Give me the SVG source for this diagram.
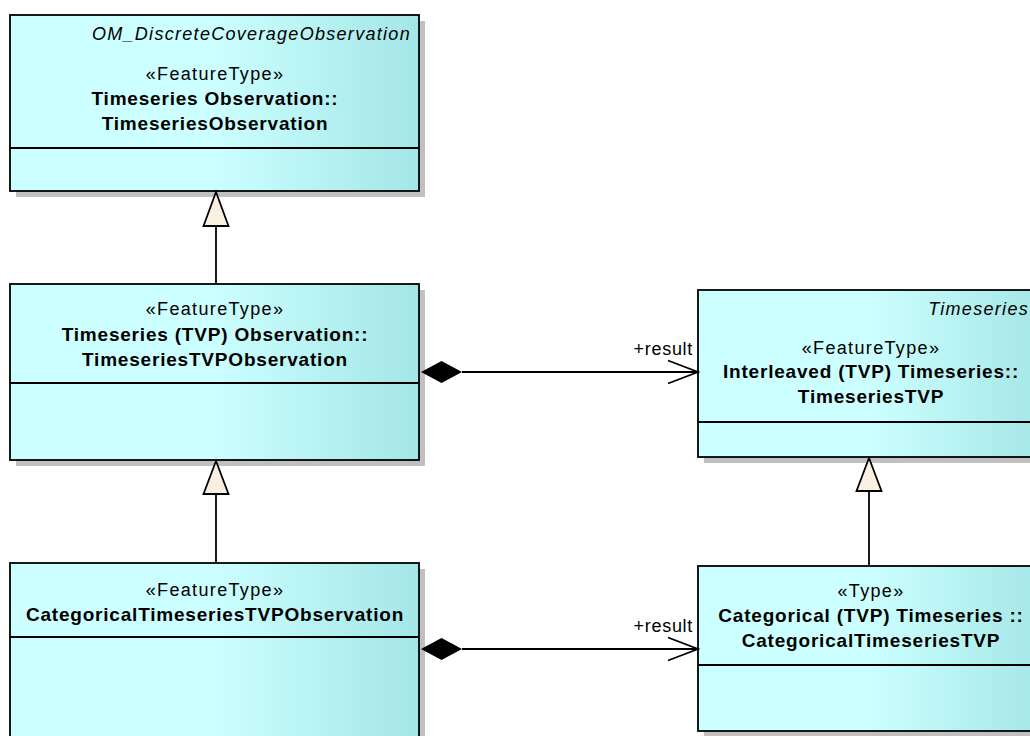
<svg xmlns="http://www.w3.org/2000/svg" width="1030" height="736" viewBox="0 0 1030 736">
<style>
  .box{fill:url(#cls);stroke:#000;stroke-width:1.8}
  .shadow{fill:#c0c0c0}
  .div{stroke:#000;stroke-width:1.8}
  text{font-family:"Liberation Sans",Arial,sans-serif;font-size:18px;fill:#000}
  .st{text-anchor:middle;letter-spacing:1.35px}
  .nm{text-anchor:middle;font-weight:bold;font-size:19px;letter-spacing:0.8px}
  .it{text-anchor:end;font-style:italic;letter-spacing:1.3px}
  .lbl{text-anchor:end;letter-spacing:0.7px}
  .ln{stroke:#000;stroke-width:1.8;fill:none}
  .gen{fill:#faf0e1;stroke:#000;stroke-width:1.8}
</style>
<defs>
  <linearGradient id="cls" x1="0" y1="0" x2="1" y2="0">
    <stop offset="0" stop-color="#ccffff"/>
    <stop offset="0.5" stop-color="#ccffff"/>
    <stop offset="1" stop-color="#a4e6e6"/>
  </linearGradient>
</defs>
<rect width="1030" height="736" fill="#fff"/>

<g id="TimeseriesObservation">
  <rect class="shadow" x="16" y="21" width="409" height="176"/>
  <rect class="box" x="10" y="15" width="409" height="176"/>
  <line class="div" x1="10" y1="148" x2="419" y2="148"/>
  <text class="it" x="411" y="40">OM_DiscreteCoverageObservation</text>
  <text class="st" x="215" y="80">«FeatureType»</text>
  <text class="nm" x="215" y="105">Timeseries Observation::</text>
  <text class="nm" x="215" y="130">TimeseriesObservation</text>
</g>

<g id="TimeseriesTVPObservation">
  <rect class="shadow" x="16" y="290" width="409" height="176"/>
  <rect class="box" x="10" y="284" width="409" height="176"/>
  <line class="div" x1="10" y1="383" x2="419" y2="383"/>
  <text class="st" x="215" y="315">«FeatureType»</text>
  <text class="nm" x="215" y="341">Timeseries (TVP) Observation::</text>
  <text class="nm" x="215" y="366">TimeseriesTVPObservation</text>
</g>

<g id="CategoricalTimeseriesTVPObservation">
  <rect class="shadow" x="16" y="569" width="409" height="200"/>
  <rect class="box" x="10" y="563" width="409" height="200"/>
  <line class="div" x1="10" y1="637" x2="419" y2="637"/>
  <text class="st" x="215" y="596">«FeatureType»</text>
  <text class="nm" x="215" y="621">CategoricalTimeseriesTVPObservation</text>
</g>

<g id="TimeseriesTVP">
  <rect class="shadow" x="704" y="296" width="346" height="167"/>
  <rect class="box" x="698" y="290" width="346" height="167"/>
  <line class="div" x1="698" y1="422" x2="1044" y2="422"/>
  <text class="it" x="1029" y="315">Timeseries</text>
  <text class="st" x="871" y="354">«FeatureType»</text>
  <text class="nm" x="871" y="378">Interleaved (TVP) Timeseries::</text>
  <text class="nm" x="871" y="403">TimeseriesTVP</text>
</g>

<g id="CategoricalTimeseriesTVP">
  <rect class="shadow" x="704" y="572" width="346" height="165"/>
  <rect class="box" x="698" y="566" width="346" height="165"/>
  <line class="div" x1="698" y1="665" x2="1044" y2="665"/>
  <text class="st" x="871" y="597">«Type»</text>
  <text class="nm" x="871" y="622">Categorical (TVP) Timeseries ::</text>
  <text class="nm" x="871" y="647">CategoricalTimeseriesTVP</text>
</g>

<g id="connectors">
  <line class="ln" x1="216" y1="226" x2="216" y2="284"/>
  <polygon class="gen" points="216,192 203.5,226 228.5,226"/>
  <line class="ln" x1="216" y1="494" x2="216" y2="563"/>
  <polygon class="gen" points="216,461 203.5,494 228.5,494"/>
  <line class="ln" x1="869" y1="491" x2="869" y2="566"/>
  <polygon class="gen" points="869,458 856.5,491 881.5,491"/>
  <line class="ln" x1="462" y1="372" x2="698" y2="372"/>
  <polygon points="421,372 441.5,361 462,372 441.5,383" fill="#000"/>
  <polyline class="ln" points="668,360.5 698,372 668,383.5"/>
  <text class="lbl" x="693" y="355">+result</text>
  <line class="ln" x1="462" y1="649" x2="698" y2="649"/>
  <polygon points="421,649 441.5,638 462,649 441.5,660" fill="#000"/>
  <polyline class="ln" points="668,637.5 698,649 668,660.5"/>
  <text class="lbl" x="693" y="632">+result</text>
</g>
</svg>
